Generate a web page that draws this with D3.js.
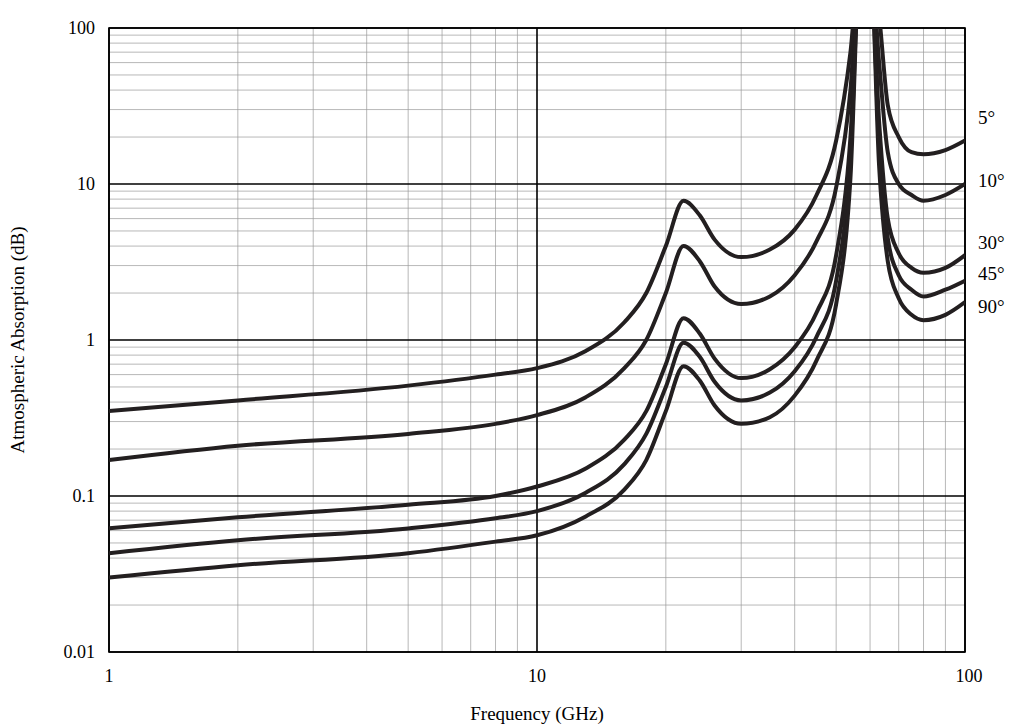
<!DOCTYPE html>
<html><head><meta charset="utf-8">
<script src="https://cdn.jsdelivr.net/npm/d3@7"></script>
<style>body{margin:0;background:#fff}text{font-family:"Liberation Serif","DejaVu Serif",serif}</style>
</head><body><svg id="chart" width="1018" height="728"></svg>
<script>
var freqs = [1,2,5,8,10,13,16,18,20,22,24,26,30,35,40,45,50,54,57,60,63,66,70,75,80,90,100];
var deg5  = [0.35,0.41,0.51,0.60,0.66,0.85,1.3,2.0,4.0,7.8,6.3,4.4,3.4,3.8,5.1,8.5,19,70,300,300,120,32,20,16,15.5,16.5,19];
var deg10 = [0.17,0.21,0.25,0.29,0.33,0.43,0.66,1.0,2.0,4.0,3.2,2.2,1.7,1.9,2.6,4.3,9.5,40,300,300,60,16,10,8.5,7.8,8.5,10];
var deg30 = [0.062,0.073,0.088,0.10,0.115,0.15,0.23,0.35,0.7,1.38,1.1,0.76,0.57,0.65,0.9,1.5,3.5,20,300,300,25,6,3.6,2.9,2.7,2.9,3.5];
var deg45 = [0.043,0.052,0.062,0.072,0.08,0.105,0.16,0.25,0.5,0.96,0.78,0.54,0.41,0.46,0.63,1.05,2.4,15,300,300,18,4.5,2.6,2.1,1.9,2.1,2.4];
var deg90 = [0.03,0.036,0.043,0.051,0.056,0.074,0.11,0.17,0.35,0.68,0.55,0.38,0.29,0.32,0.44,0.74,1.7,11,300,300,13,3.2,1.85,1.45,1.34,1.45,1.75];
var seriesNames = ["5°","10°","30°","45°","90°"];
var labelY = [118, 181, 243, 274, 307];
var yTicks = [0.01,0.1,1,10,100];
var yTickLabels = ["0.01","0.1","1","10","100"];
var xTicks = [1,10,100];

var svg = d3.select("#chart");
var L = 109, R = 965, T = 28, B = 652;
var x = d3.scaleLog().domain([1,100]).range([L,R]);
var y = d3.scaleLog().domain([0.01,100]).range([B,T]);

var g = svg.append("g");
// minor grid
for (var d = 1; d < 100; d *= 10) for (var k = 2; k < 10; k++) {
  g.append("line").attr("x1",x(d*k)).attr("x2",x(d*k)).attr("y1",T).attr("y2",B).attr("stroke","#999").attr("stroke-width",0.7);
}
for (var d = 0.01; d < 99; d *= 10) for (var k = 2; k < 10; k++) {
  g.append("line").attr("x1",L).attr("x2",R).attr("y1",y(d*k)).attr("y2",y(d*k)).attr("stroke","#999").attr("stroke-width",0.7);
}
xTicks.forEach(function(v){ g.append("line").attr("x1",x(v)).attr("x2",x(v)).attr("y1",T).attr("y2",B).attr("stroke","#000").attr("stroke-width",1.6); });
yTicks.forEach(function(v){ g.append("line").attr("x1",L).attr("x2",R).attr("y1",y(v)).attr("y2",y(v)).attr("stroke","#000").attr("stroke-width",1.6); });
g.append("rect").attr("x",L).attr("y",T).attr("width",R-L).attr("height",B-T).attr("fill","none").attr("stroke","#000").attr("stroke-width",1.6);

yTicks.forEach(function(v,i){ svg.append("text").attr("x",L-14).attr("y",y(v)+6).attr("text-anchor","end").attr("font-size",18).text(yTickLabels[i]); });
xTicks.forEach(function(v){ svg.append("text").attr("x",x(v)+(v==100?4:0)).attr("y",B+30).attr("text-anchor","middle").attr("font-size",18).text(v); });
svg.append("text").attr("x",(L+R)/2).attr("y",720).attr("text-anchor","middle").attr("font-size",19).text("Frequency (GHz)");
svg.append("text").attr("transform","translate(24,"+((T+B)/2)+") rotate(-90)").attr("text-anchor","middle").attr("font-size",19).text("Atmospheric Absorption (dB)");

svg.append("clipPath").attr("id","clip").append("rect").attr("x",L).attr("y",T).attr("width",R-L).attr("height",B-T);
var line = d3.line().x(function(d){return x(d[0]);}).y(function(d){return y(d[1]);}).curve(d3.curveMonotoneX);
[deg5,deg10,deg30,deg45,deg90].forEach(function(s,i){
  svg.append("path").attr("clip-path","url(#clip)").attr("d",line(freqs.map(function(f,j){return [f,s[j]];})))
    .attr("fill","none").attr("stroke","#231f20").attr("stroke-width",4);
  svg.append("text").attr("x",978).attr("y",labelY[i]+6).attr("font-size",19).text(seriesNames[i]);
});
</script></body></html>
